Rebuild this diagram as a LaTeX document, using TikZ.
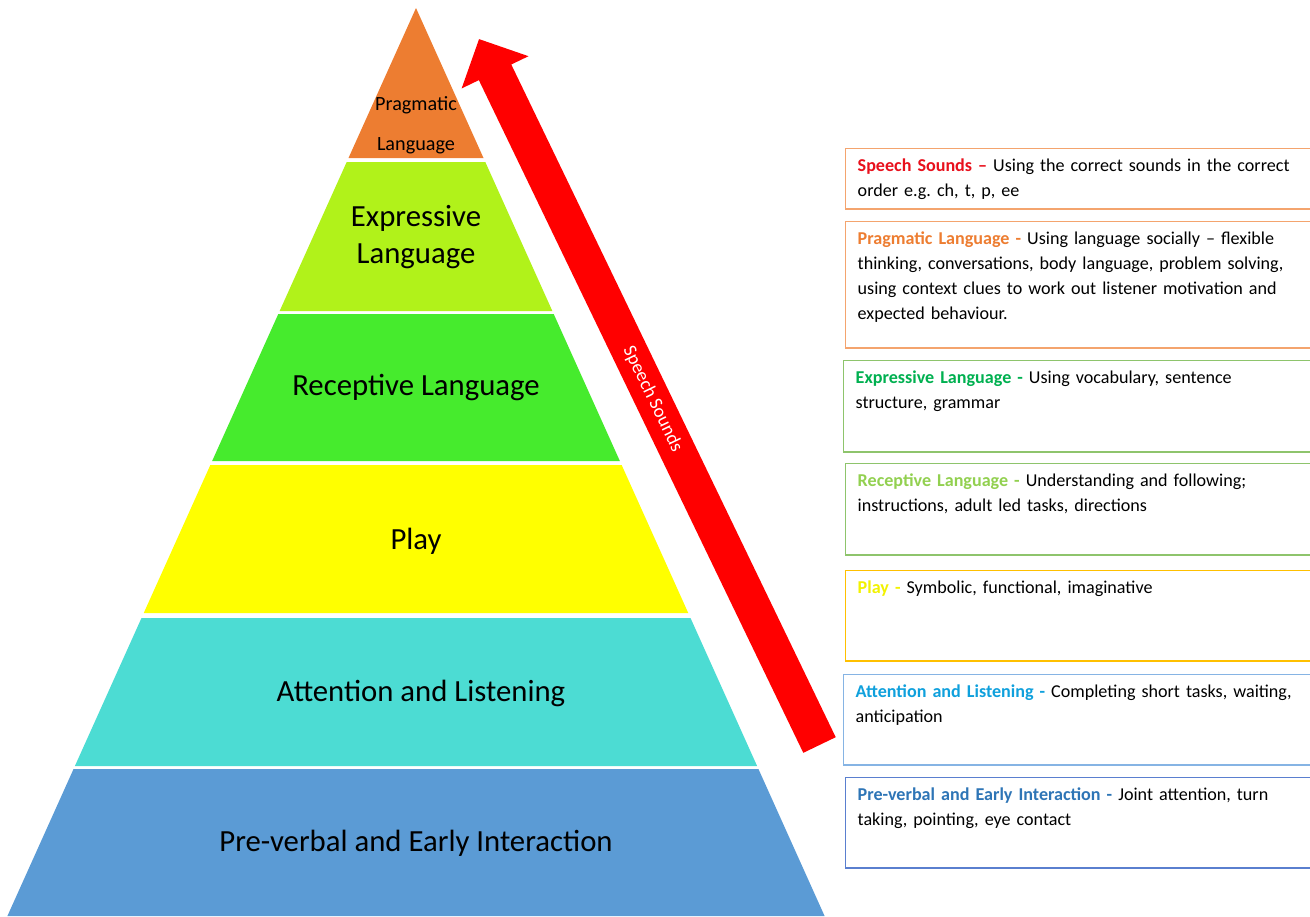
\documentclass[tikz,border=0pt]{standalone}
\usepackage{fontspec}
\setmainfont{Carlito}
\usepackage{tikz}
\usetikzlibrary{calc,arrows.meta}
\frenchspacing

% pyramid fills
\definecolor{pragcol}{HTML}{ED7D31}
\definecolor{exprcol}{HTML}{B1F21A}
\definecolor{reccol}{HTML}{46EB2D}
\definecolor{playcol}{HTML}{FFFF00}
\definecolor{attcol}{HTML}{4CDCD3}
\definecolor{precol}{HTML}{5B9BD5}
\definecolor{arrowred}{HTML}{FF0000}
% box outlines
\definecolor{orangeline}{HTML}{F4A46E}
\definecolor{greenline}{HTML}{8EC46C}
\definecolor{goldline}{HTML}{FFC000}
\definecolor{skyline}{HTML}{86B4E4}
\definecolor{blueline}{HTML}{5A7FCF}
% box headings
\definecolor{sshead}{HTML}{E8101C}
\definecolor{praghead}{HTML}{ED7D31}
\definecolor{exprhead}{HTML}{00B050}
\definecolor{rechead}{HTML}{92D050}
\definecolor{playhead}{HTML}{F2F200}
\definecolor{atthead}{HTML}{0FA0DC}
\definecolor{prehead}{HTML}{2E75B6}

\begin{document}
\begin{tikzpicture}[x=0.02cm, y=-0.02cm,
    level/.style={font=\fontsize{17.5}{21}\selectfont, align=center, inner sep=0pt},
    descbox/.style={draw, line width=0.8pt, anchor=north west, text width=8.86cm,
        inner xsep=0.24cm, inner ysep=0pt, text height=0.45cm, align=left,
        font=\fontsize{10.3}{14.2}\selectfont},
    speecharrow/.style={draw=arrowred, line width=0.72cm,
        -{Triangle[length=0.74cm, width=1.44cm, fill=arrowred]}}]
    \useasboundingbox (0,0) rectangle (1310,916);
    % Pyramid bands
    \foreach \ya/\yb/\col in {8/158/pragcol, 162/311/exprcol, 314/461/reccol,
        465/613/playcol, 618/766/attcol, 769/916/precol}
        \fill[\col] ({416-0.45*(\ya-8)},\ya) -- ({416+0.45*(\ya-8)},\ya)
            -- ({416+0.45*(\yb-8)},\yb) -- ({416-0.45*(\yb-8)},\yb) -- cycle;
    % Place nodes
    \node [level, font=\fontsize{11.5}{22.8}\selectfont] (pragname) at (416,125) {Pragmatic\\Language};
    \node [level] (exprname) at (416,237) {Expressive\\Language};
    \node [level] (recname) at (416,388) {Receptive Language};
    \node [level] (playname) at (416,541) {Play};
    \node [level] (attname) at (421,693) {Attention and Listening};
    \node [level] (prename) at (416,843) {Pre-verbal and Early Interaction};
    % Speech sounds arrow
    \coordinate (sstail) at (819.5,745);
    \coordinate (sstip) at (479,39);
    \path [speecharrow] (sstail) -- node [pos=0.49, sloped, text=white,
        font=\fontsize{10.7}{12}\selectfont] (arrowname) {Speech Sounds} (sstip);
    % Description boxes
    \node [descbox, draw=orangeline, text depth=0.76cm] (ssbox) at (845,148)
        {\textbf{\color{sshead}Speech Sounds –} Using the correct sounds in the correct\\
         order e.g. ch, t, p, ee};
    \node [descbox, draw=orangeline, text depth=2.08cm] (pragbox) at (845,221)
        {\textbf{\color{praghead}Pragmatic Language -} Using language socially – flexible\\
         thinking, conversations, body language, problem solving,\\
         using context clues to work out listener motivation and\\
         expected behaviour.};
    \node [descbox, draw=greenline, text depth=1.38cm] (exprbox) at (843,360)
        {\textbf{\color{exprhead}Expressive Language -} Using vocabulary, sentence\\
         structure, grammar};
    \node [descbox, draw=greenline, text depth=1.38cm] (recbox) at (845,463)
        {\textbf{\color{rechead}Receptive Language -} Understanding and following;\\
         instructions, adult led tasks, directions};
    \node [descbox, draw=goldline, text depth=1.36cm] (playbox) at (845,570)
        {\textbf{\color{playhead}Play -} Symbolic, functional, imaginative};
    \node [descbox, draw=skyline, text depth=1.36cm] (attbox) at (843,674)
        {\textbf{\color{atthead}Attention and Listening -} Completing short tasks, waiting,\\
         anticipation};
    \node [descbox, draw=blueline, text depth=1.36cm] (prebox) at (845,777)
        {\textbf{\color{prehead}Pre-verbal and Early Interaction -} Joint attention, turn\\
         taking, pointing, eye contact};
\end{tikzpicture}
\end{document}
